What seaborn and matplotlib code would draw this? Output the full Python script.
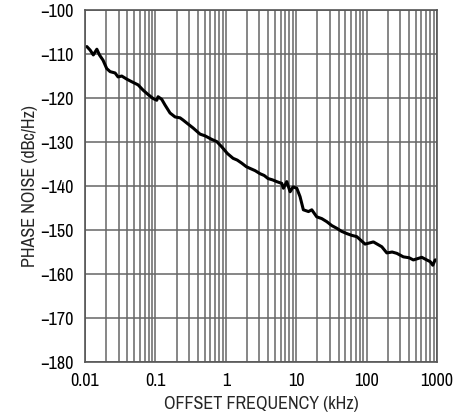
import numpy as np
import pandas as pd
import seaborn as sns
import matplotlib.pyplot as plt
from matplotlib.ticker import LogLocator, FixedLocator, NullFormatter

# offset frequency (kHz) and phase noise (dBc/Hz)
freq_khz = [0.0106, 0.0118, 0.0131, 0.0147, 0.0160, 0.0180, 0.0203, 0.0227, 0.0267,
            0.0294, 0.0332, 0.0391, 0.0461, 0.0566, 0.0667, 0.0785, 0.0925, 0.1043,
            0.1089, 0.1228, 0.1368, 0.161, 0.190, 0.2235, 0.2466, 0.290, 0.342, 0.430,
            0.507, 0.630, 0.743, 0.875, 1.05, 1.265, 1.45, 1.68, 1.95, 2.21, 2.6, 3.06,
            3.5, 3.97, 4.6, 5.28, 6.22, 6.56, 7.33, 8.17, 9.0, 10.16, 11.3, 12.6, 14.9,
            16.6, 19.5, 23.0, 27.1, 32.0, 37.6, 44.0, 52.1, 61.0, 72.3, 94.9, 124.5,
            163.8, 193, 230, 268, 332, 400, 460, 606, 714, 800, 868, 937, 990]
noise_dbc = [-108.3, -109.1, -110.2, -108.9, -110.2, -111.4, -113.3, -114.0, -114.3,
             -115.2, -115.0, -115.7, -116.3, -117.0, -118.2, -119.2, -120.1, -120.5,
             -119.7, -120.3, -121.6, -123.4, -124.3, -124.5, -125.0, -125.9, -126.8, -128.2,
             -128.6, -129.4, -129.9, -131.1, -132.6, -133.7, -134.1, -134.8, -135.6, -136.0, -136.5, -137.2,
             -137.6, -138.3, -138.6, -139.0, -139.4, -140.5, -139.0, -141.3, -140.2, -140.5, -142.4, -145.4, -145.8,
             -145.4, -147.0, -147.4, -148.1, -149.0, -149.6, -150.3, -150.8, -151.2,
             -151.5, -153.2, -152.7, -153.8, -155.2, -155.0, -155.3, -156.1, -156.3, -156.8, -156.2, -156.8, -157.2, -158.0, -156.8, -156.8]

x_ticks = [0.01, 0.1, 1, 10, 100, 1000]
x_tick_labels = ["0.01", "0.1", "1", "10", "100", "1000"]
y_ticks = list(range(-180, -99, 10))

sns.set_style("white")
plt.rcParams['font.family'] = ['Archivo Narrow', 'Liberation Sans', 'DejaVu Sans']

df = pd.DataFrame({"freq": freq_khz, "noise": noise_dbc})

fig = plt.figure(figsize=(4.70, 4.19), dpi=100)
ax = fig.add_axes([0.181, 0.136, 0.749, 0.840])
sns.lineplot(data=df, x="freq", y="noise", ax=ax, color="black", linewidth=2.2)

ax.set_xscale("log")
ax.set_xlim(0.01, 1000)
ax.set_ylim(-180, -100)
ax.xaxis.set_major_locator(FixedLocator(x_ticks))
ax.set_xticklabels(x_tick_labels)
ax.xaxis.set_minor_locator(LogLocator(base=10, subs=np.arange(2, 10)))
ax.xaxis.set_minor_formatter(NullFormatter())
ax.set_yticks(y_ticks)
ax.set_yticklabels(["\u2212%d" % abs(v) for v in y_ticks])

ax.grid(True, which="both", axis="x", color="#666666", linewidth=1.1)
ax.grid(True, which="major", axis="y", color="#666666", linewidth=1.1)
ax.set_axisbelow(True)
for s in ax.spines.values():
    s.set_color("#555555")
    s.set_linewidth(1.2)
ax.tick_params(axis="both", which="both", length=0, labelsize=13, colors="black")
ax.tick_params(axis="y", pad=8)
ax.tick_params(axis="x", pad=8)

ax.set_xlabel("OFFSET FREQUENCY (kHz)", fontsize=13, labelpad=5)
ax.set_ylabel("PHASE NOISE (dBc/Hz)", fontsize=13, labelpad=2)

plt.savefig("out.png", dpi=100)
